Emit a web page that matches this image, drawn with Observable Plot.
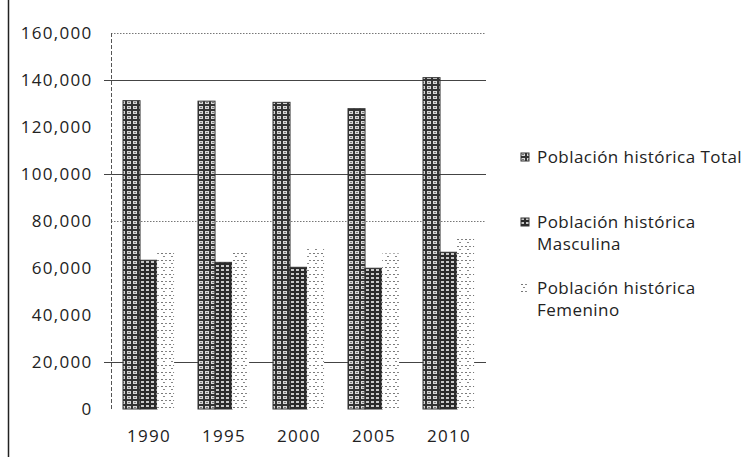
<!DOCTYPE html>
<html>
<head>
<meta charset="utf-8">
<script src="https://cdn.jsdelivr.net/npm/d3@7"></script>
<script src="https://cdn.jsdelivr.net/npm/@observablehq/plot@0.6"></script>
<style>
  html, body { margin: 0; padding: 0; background: #fff; }
  #wrap { position: relative; width: 747px; height: 457px; font-family: "Open Sans", sans-serif; overflow: hidden; }
  #legend { position: absolute; left: 519px; top: 0; width: 228px; height: 457px; color: #222; font-size: 17px; letter-spacing: 0.45px; line-height: 22px; }
  .item { position: absolute; left: 0; white-space: nowrap; }
  .item svg { position: absolute; left: 1px; top: 6px; }
  .item span { display: block; margin-left: 18px; }
</style>
</head>
<body>
<div id="wrap">
  <div id="chart"></div>
  <div id="legend"></div>
</div>
<script>
const years = ["1990", "1995", "2000", "2005", "2010"];
const series = ["Población histórica Total", "Población histórica Masculina", "Población histórica Femenino"];
const total = [131200, 131000, 130500, 127800, 141000];
const masculina = [63300, 62400, 60300, 59900, 66700];
const femenino = [66700, 66800, 68800, 66200, 73000];
const yTicks = [0, 20000, 40000, 60000, 80000, 100000, 120000, 140000, 160000];
const solidGrid = [20000, 100000, 140000];
const dottedGrid = [80000, 160000];

const valuesBySeries = [total, masculina, femenino];
const rows = [];
series.forEach((s, k) => years.forEach((y, i) => rows.push({i, year: y, series: s, k, value: valuesBySeries[k][i]})));

const barW = 0.227, groupStart = -0.34;
const x1 = d => d.i + groupStart + d.k * barW;
const x2 = d => d.i + groupStart + (d.k + 1) * barW;

const chart = Plot.plot({
  width: 747,
  height: 457,
  marginLeft: 111,
  marginRight: 261,
  marginTop: 33,
  marginBottom: 48,
  style: {fontFamily: "Open Sans, sans-serif", fontSize: "17px", letterSpacing: "1.3px", color: "#222", background: "#fff", overflow: "visible"},
  x: {type: "linear", domain: [-0.5, 4.5], ticks: years.map((_, i) => i), tickFormat: i => years[i], tickSize: 0, tickPadding: 20, label: null},
  y: {domain: [0, 160000], ticks: yTicks, tickFormat: d3.format(","), tickSize: 0, tickPadding: 19, label: null},
  color: {type: "ordinal", domain: series, range: ["url(#pTotal)", "url(#pMasc)", "url(#pFem)"]},
  marks: [
    Plot.ruleY(dottedGrid, {stroke: "#777", strokeWidth: 1, strokeDasharray: "1.5,1.5"}),
    Plot.ruleY(solidGrid, {stroke: "#444", strokeWidth: 1.2, insetLeft: -7}),
    Plot.ruleX([-0.5], {y1: 0, y2: 160000, stroke: "#555", strokeDasharray: "4,2", strokeWidth: 1}),
    Plot.rectY(rows, {x1, x2, y1: 0, y2: "value", fill: "series",
      stroke: d => d.k === 2 ? "none" : "#333", strokeWidth: 1})
  ]
});

const svg = d3.select(chart);
const defs = svg.insert("defs", ":first-child");
// Total: dark gray brick grid
let p = defs.append("pattern").attr("id", "pTotal").attr("width", 6).attr("height", 5).attr("patternUnits", "userSpaceOnUse");
p.append("rect").attr("width", 6).attr("height", 5).attr("fill", "#333");
p.append("rect").attr("x", 1).attr("y", 1).attr("width", 4).attr("height", 3).attr("fill", "#d8d8d8");
p.append("rect").attr("x", 2).attr("y", 2).attr("width", 2).attr("height", 1).attr("fill", "#777");
// Masculina: darker, denser grid
p = defs.append("pattern").attr("id", "pMasc").attr("width", 5).attr("height", 4).attr("patternUnits", "userSpaceOnUse");
p.append("rect").attr("width", 5).attr("height", 4).attr("fill", "#2a2a2a");
p.append("rect").attr("x", 1).attr("y", 1).attr("width", 3).attr("height", 2).attr("fill", "#c8c8c8");
// Femenino: sparse light dots
p = defs.append("pattern").attr("id", "pFem").attr("width", 8).attr("height", 7).attr("patternUnits", "userSpaceOnUse");
p.append("rect").attr("width", 8).attr("height", 7).attr("fill", "#fff");
p.append("rect").attr("x", 1).attr("y", 1).attr("width", 2).attr("height", 1).attr("fill", "#777");
p.append("rect").attr("x", 5).attr("y", 1).attr("width", 2).attr("height", 1).attr("fill", "#888");
p.append("rect").attr("x", 3).attr("y", 4).attr("width", 2).attr("height", 1).attr("fill", "#888");

// image left border line
svg.append("line").attr("x1", 8.5).attr("x2", 8.5).attr("y1", 0).attr("y2", 457).attr("stroke", "#222").attr("stroke-width", 1.5);

document.getElementById("chart").appendChild(chart);

// Legend
const legendItems = [
  {key: series[0], lines: ["Población histórica Total"], top: 146, pat: "pTotal"},
  {key: series[1], lines: ["Población histórica", "Masculina"], top: 211, pat: "pMasc"},
  {key: series[2], lines: ["Población histórica", "Femenino"], top: 277, pat: "pFem"}
];
const legend = d3.select("#legend");
legendItems.forEach(it => {
  const div = legend.append("div").attr("class", "item").style("top", it.top + "px");
  const s = div.append("svg").attr("width", 12).attr("height", 10);
  s.append("rect").attr("x", 1).attr("y", 1).attr("width", 8).attr("height", 8)
    .attr("fill", `url(#${it.pat})`).attr("stroke", it.pat === "pFem" ? "none" : "#333");
  const sp = div.append("span");
  it.lines.forEach((l, j) => { if (j) sp.append("br"); sp.append("tspan").text(l); });
});
</script>
</body>
</html>
